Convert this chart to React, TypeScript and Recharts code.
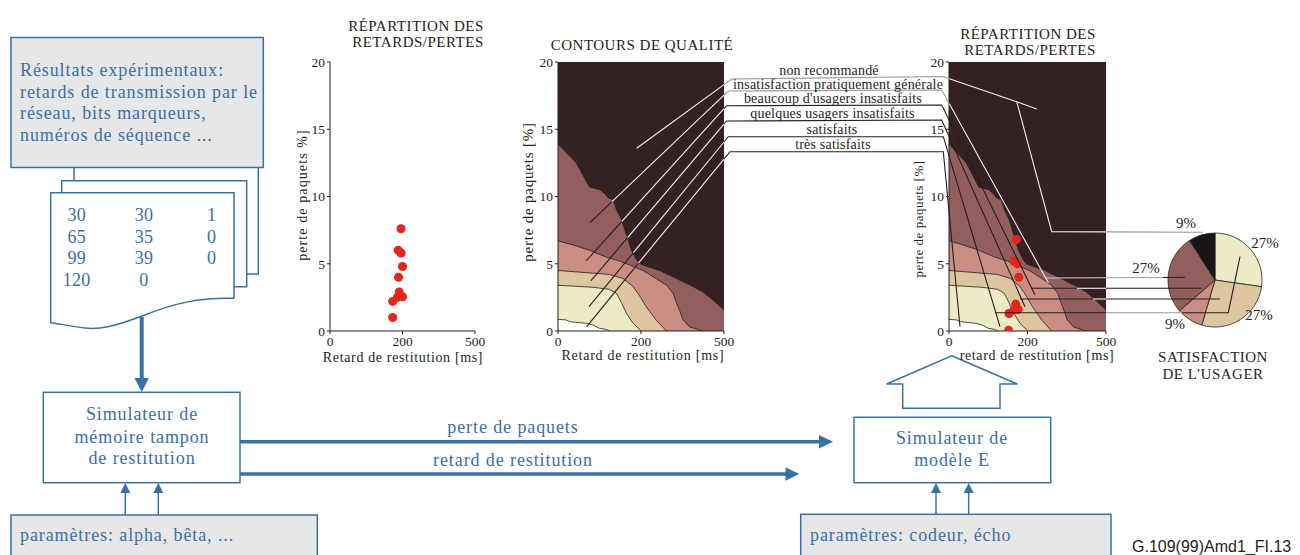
import React from 'react';
import { ScatterChart, Scatter, XAxis, YAxis, ComposedChart, Area, PieChart, Pie, Cell } from 'recharts';

// ---------- data ----------
const X_TICK_VALUES = [0, 200, 500];
const Y_TICKS = [0, 5, 10, 15, 20];

const LEFT_DELAY = [196, 188, 196, 200, 189, 191, 186, 200, 173, 173];
const LEFT_LOSS = [7.6, 6.0, 5.8, 4.8, 4.0, 2.9, 2.5, 2.55, 2.2, 1.0];

const RIGHT_DELAY = [172, 165, 174, 178, 170, 176, 165, 153, 152];
const RIGHT_LOSS = [6.8, 5.2, 5.0, 4.0, 2.0, 1.6, 1.55, 1.3, 0.05];

// quality contour boundaries (delay ms, loss %)
const B1_DELAY = [0, 44, 76, 101, 113, 121, 133, 141, 153, 161, 169, 177, 189, 197, 207, 267, 328, 388, 424, 460, 500];
const B1_LOSS = [13.9, 12.5, 10.7, 10.5, 10.2, 9.9, 9.75, 9.0, 8.3, 7.5, 6.8, 6.0, 5.3, 5.0, 4.9, 4.5, 3.9, 3.3, 2.9, 2.3, 1.56];
const B2_DELAY = [0, 36, 76, 116, 149, 173, 207, 255, 292, 316, 328, 340, 352, 376, 424];
const B2_LOSS = [6.7, 6.4, 6.0, 5.5, 5.2, 4.9, 4.5, 3.9, 3.4, 2.8, 2.1, 1.5, 0.82, 0.3, 0];
const B3_DELAY = [0, 84, 124, 157, 181, 197, 219, 255, 292];
const B3_LOSS = [4.5, 4.3, 4.2, 3.9, 3.3, 2.6, 1.8, 0.8, 0];
const B4_DELAY = [0, 84, 124, 141, 153, 165, 181, 201];
const B4_LOSS = [3.4, 3.25, 3.1, 2.8, 2.1, 1.3, 0.57, 0];
const B5_DELAY = [0, 20, 28, 68, 84, 100, 116, 124];
const B5_LOSS = [0.87, 0.82, 0.7, 0.57, 0.45, 0.2, 0.12, 0];
const BG_DELAY = [0, 500];
const BG_LOSS = [20, 20];

const QUALITY_LABELS = [
  'non recommandé',
  'insatisfaction pratiquement générale',
  "beaucoup d'usagers insatisfaits",
  'quelques usagers insatisfaits',
  'satisfaits',
  'très satisfaits',
];

const PIE_VALUES = [27, 27, 9, 27, 9];
const PIE_LABELS = ['27%', '27%', '9%', '27%', '9%'];

// ---------- styles ----------
const DARK = '#352123';
const MED = '#935f5c';
const PINK = '#c98d84';
const TAN = '#dcc59f';
const YEL = '#eceac7';
const BLACK = '#161414';
const RED = '#e1261c';
const INK = '#231f20';
const BLUE = '#3a70a8';
const BLUE_TXT = '#3a6ea6';
const GRAYBOX = '#e6e7e8';
const WL = '#f0f0f0';
const GL = '#9a9a9a';
const SERIF = '"Liberation Serif", "Times New Roman", "DejaVu Serif", serif';
const SANS = '"Liberation Sans", Arial, sans-serif';

const PIE_COLORS = [YEL, TAN, PINK, MED, BLACK];

// piecewise axis: 0..200 ms on first half, 200..500 ms on second half
const axisPos = (ms: number) => (ms <= 200 ? ms / 400 : 0.5 + (ms - 200) / 600);
const X_AXIS_TICKS = X_TICK_VALUES.map(axisPos);
const fmtX = (v: number) => {
  const i = X_AXIS_TICKS.findIndex((t) => Math.abs(t - v) < 1e-6);
  return i >= 0 ? String(X_TICK_VALUES[i]) : '';
};
const toPoints = (d: number[], l: number[]) => d.map((ms, i) => ({ x: axisPos(ms), y: l[i] }));

const LEFT_POINTS = toPoints(LEFT_DELAY, LEFT_LOSS);
const RIGHT_POINTS = toPoints(RIGHT_DELAY, RIGHT_LOSS);
const CONTOURS = [
  { data: toPoints(BG_DELAY, BG_LOSS), fill: DARK, stroke: 'none' },
  { data: toPoints(B1_DELAY, B1_LOSS), fill: MED, stroke: INK },
  { data: toPoints(B2_DELAY, B2_LOSS), fill: PINK, stroke: INK },
  { data: toPoints(B3_DELAY, B3_LOSS), fill: TAN, stroke: INK },
  { data: toPoints(B4_DELAY, B4_LOSS), fill: YEL, stroke: INK },
  { data: toPoints(B5_DELAY, B5_LOSS), fill: '#ffffff', stroke: INK },
];
const PIE_DATA = PIE_VALUES.map((v, i) => ({ name: PIE_LABELS[i], value: v }));

const tickStyle = { fontSize: 13.5, fill: INK, fontFamily: SERIF };

function xAxisEl() {
  return (
    <XAxis
      type="number"
      dataKey="x"
      domain={[0, 1]}
      allowDataOverflow
      ticks={X_AXIS_TICKS}
      tickFormatter={fmtX}
      interval={0}
      height={39}
      tickSize={3}
      tickMargin={2}
      tick={tickStyle}
      axisLine={{ stroke: INK }}
      tickLine={{ stroke: INK }}
    />
  );
}

function yAxisEl(width: number) {
  return (
    <YAxis
      type="number"
      dataKey="y"
      domain={[0, 20]}
      allowDataOverflow
      ticks={Y_TICKS}
      interval={0}
      width={width}
      tickSize={3}
      tickMargin={2}
      tick={tickStyle}
      axisLine={{ stroke: INK }}
      tickLine={{ stroke: INK }}
    />
  );
}

function ContourChart({ width, yWidth, right, points }: { width: number; yWidth: number; right: number; points?: { x: number; y: number }[] }) {
  return (
    <ComposedChart width={width} height={370} margin={{ top: 62, right, bottom: 0, left: 0 }}>
      {xAxisEl()}
      {yAxisEl(yWidth)}
      {CONTOURS.map((c, i) => (
        <Area
          key={i}
          data={c.data}
          dataKey="y"
          type="linear"
          fill={c.fill}
          fillOpacity={1}
          stroke={c.stroke}
          strokeWidth={0.8}
          dot={false}
          activeDot={false}
          isAnimationActive={false}
        />
      ))}
      {points && <Scatter data={points} dataKey="y" fill={RED} isAnimationActive={false} />}
    </ComposedChart>
  );
}

const T = (props: any) => <text fontFamily={SERIF} fill={INK} {...props} />;
const BT = (props: any) => <text fontFamily={SERIF} fill={BLUE_TXT} fontSize={18} letterSpacing={0.9} {...props} />;

const seg = (pts: number[][]) => pts.map((p) => p.join(',')).join(' ');

function Overlay() {
  const lines: { p: number[][]; c: string }[] = [
    // left chart leader lines
    { p: [[636.7, 148.3], [724, 84.6]], c: WL },
    { p: [[590, 222.7], [612, 201.7]], c: INK },
    { p: [[612, 201.7], [724, 95.1]], c: WL },
    { p: [[586, 261], [621.9, 221.4]], c: INK },
    { p: [[621.9, 221.4], [724, 108.6]], c: WL },
    { p: [[591, 280.7], [627.6, 237.7]], c: INK },
    { p: [[627.6, 237.7], [724, 124.2]], c: WL },
    { p: [[589, 306.7], [633.4, 252.6]], c: INK },
    { p: [[633.4, 252.6], [724, 142]], c: WL },
    { p: [[586.7, 326.7], [638.5, 263.1]], c: INK },
    { p: [[638.5, 263.1], [724, 159.1]], c: WL },
    // underlines
    { p: [[724, 84.6], [731.7, 79], [943, 76.5], [949.3, 78.7]], c: GL },
    { p: [[724, 95.1], [728.3, 91], [941.7, 90], [949.3, 103.7]], c: GL },
    { p: [[724, 108.6], [726.7, 105.7], [941.7, 105], [1035, 295]], c: INK },
    { p: [[724, 124.2], [726.7, 121], [941.7, 120], [1025, 306.7]], c: INK },
    { p: [[724, 142], [728.3, 136.7], [943.3, 136.7], [1000, 326.7]], c: INK },
    { p: [[724, 159.1], [730, 151.7], [943.3, 151.7], [960, 326.7]], c: INK },
    // right chart, non recommandé
    { p: [[949.3, 78.7], [1016.7, 101.7], [1036.7, 109]], c: WL },
    { p: [[1016.7, 101.7], [1051.7, 231.7], [1106, 231.9]], c: WL },
    { p: [[1106, 231.9], [1202.7, 232.3]], c: GL },
    // insatisfaction
    { p: [[949.3, 103.7], [1048.3, 282.7]], c: WL },
    { p: [[1046.7, 278], [1106, 277.8]], c: '#d0d0d0' },
    { p: [[1106, 277.8], [1163, 277.5]], c: GL },
    { p: [[1163, 277.5], [1185, 277.3]], c: INK },
    // beaucoup
    { p: [[1031.7, 288.3], [1077, 288.3]], c: INK },
    { p: [[1077, 288.3], [1106, 288.3]], c: WL },
    { p: [[1106, 288.3], [1201.7, 288.3]], c: INK },
    // quelques
    { p: [[1020, 299], [1093, 299]], c: INK },
    { p: [[1093, 299], [1106, 299]], c: WL },
    { p: [[1106, 299], [1220, 299]], c: INK },
    // satisfaits
    { p: [[995, 312.7], [1106, 312.7]], c: INK },
    { p: [[1106, 312.7], [1182, 312.7]], c: GL },
    { p: [[1182, 312.7], [1228.3, 312.7], [1240, 256.7]], c: INK },
  ];
  const labelY = [74.5, 88.8, 102.8, 118.3, 133.5, 148.8];
  const labelX = [829, 838, 833, 832.5, 832, 833];
  return (
    <svg width={1300} height={555} style={{ position: 'absolute', left: 0, top: 0, pointerEvents: 'none' }}>
      {/* experimental results box and pages */}
      <path d="M74,167.5 V180.7 M258.3,167.5 V274 H246.7" fill="none" stroke={BLUE} strokeWidth={1.5} />
      <path d="M61.7,192.7 V180.7 H246.7 V286.7 H234" fill="none" stroke={BLUE} strokeWidth={1.5} />
      <path
        d="M50.7,192.7 H234 V298.3 C200,297 175,303 140,316.7 C115,326 100,330 85,328 C70,326 60,324 50.7,322.7 Z"
        fill="#fff"
        stroke={BLUE}
        strokeWidth={1.5}
      />
      <rect x={11} y={37.5} width={252.3} height={130} fill={GRAYBOX} stroke={BLUE} strokeWidth={1.5} />
      <BT x={20} y={76}>Résultats expérimentaux:</BT>
      <BT x={20} y={97.5}>retards de transmission par le</BT>
      <BT x={20} y={119}>réseau, bits marqueurs,</BT>
      <BT x={20} y={141}>numéros de séquence ...</BT>
      {[
        ['30', '30', '1'],
        ['65', '35', '0'],
        ['99', '39', '0'],
        ['120', '0', ''],
      ].map((row, i) =>
        row.map((v, j) => (
          <BT key={i + '-' + j} x={[76.7, 144, 211.7][j]} y={221 + i * 21.7} textAnchor="middle" letterSpacing={0.3}>
            {v}
          </BT>
        ))
      )}
      {/* thick arrow down */}
      <line x1={141.7} y1={316.7} x2={141.7} y2={380} stroke={BLUE} strokeWidth={4} />
      <polygon points="134.5,378 148.9,378 141.7,392" fill={BLUE} />
      {/* buffer simulator */}
      <rect x={43.3} y={392.3} width={196.7} height={90.4} fill="#fff" stroke={BLUE} strokeWidth={1.5} />
      <BT x={142} y={420} textAnchor="middle">Simulateur de</BT>
      <BT x={142} y={442.5} textAnchor="middle">mémoire tampon</BT>
      <BT x={142} y={464} textAnchor="middle">de restitution</BT>
      {[125.3, 158.3, 936, 968.7].map((x) => (
        <g key={x}>
          <line x1={x} y1={515} x2={x} y2={492} stroke={BLUE} strokeWidth={1.5} />
          <polygon points={`${x - 5},493 ${x + 5},493 ${x},483`} fill={BLUE} />
        </g>
      ))}
      <rect x={11} y={515} width={306.3} height={60} fill={GRAYBOX} stroke={BLUE} strokeWidth={1.5} />
      <BT x={20} y={541}>paramètres: alpha, bêta, ...</BT>
      {/* horizontal arrows */}
      <line x1={240} y1={441.7} x2={821} y2={441.7} stroke={BLUE} strokeWidth={3.5} />
      <polygon points="819,434.9 833,441.7 819,448.5" fill={BLUE} />
      <line x1={240} y1={474} x2={787} y2={474} stroke={BLUE} strokeWidth={3.5} />
      <polygon points="785.5,467.2 799.3,474 785.5,480.8" fill={BLUE} />
      <BT x={513} y={433} textAnchor="middle">perte de paquets</BT>
      <BT x={513} y={466} textAnchor="middle">retard de restitution</BT>
      {/* E-model */}
      <rect x={854} y={417.3} width={196.7} height={65.4} fill="#fff" stroke={BLUE} strokeWidth={1.5} />
      <BT x={952} y={444} textAnchor="middle">Simulateur de</BT>
      <BT x={952} y={466} textAnchor="middle">modèle E</BT>
      <rect x={800.7} y={514.3} width={310.3} height={60} fill={GRAYBOX} stroke={BLUE} strokeWidth={1.5} />
      <BT x={810} y={541}>paramètres: codeur, écho</BT>
      <polygon
        points="951.7,355.7 1017.3,384 1000,384 1000,408.3 902.7,408.3 902.7,384 886.7,384"
        fill="none"
        stroke={BLUE}
        strokeWidth={1.5}
      />
      <text x={1132} y={552} fontFamily={SANS} fontSize={16} fill={INK}>G.109(99)Amd1_FI.13</text>

      {/* chart titles & axis labels */}
      <T x={416} y={30.5} fontSize={15} letterSpacing={0.5} textAnchor="middle">RÉPARTITION DES</T>
      <T x={418} y={47} fontSize={15} letterSpacing={0.5} textAnchor="middle">RETARDS/PERTES</T>
      <T x={302} y={195} fontSize={14} letterSpacing={1.1} textAnchor="middle" dominantBaseline="central" transform="rotate(-90 302 195)">perte de paquets %]</T>
      <T x={403} y={362} fontSize={14} letterSpacing={0.65} textAnchor="middle">Retard de restitution [ms]</T>
      <T x={642} y={49.5} fontSize={15} letterSpacing={0.5} textAnchor="middle">CONTOURS DE QUALITÉ</T>
      <T x={528} y={192} fontSize={15} letterSpacing={0.8} textAnchor="middle" dominantBaseline="central" transform="rotate(-90 528 192)">perte de paquets [%]</T>
      <T x={643} y={360} fontSize={14} letterSpacing={0.75} textAnchor="middle">Retard de restitution [ms]</T>
      <T x={1028} y={38.5} fontSize={15} letterSpacing={0.5} textAnchor="middle">RÉPARTITION DES</T>
      <T x={1030} y={55} fontSize={15} letterSpacing={0.5} textAnchor="middle">RETARDS/PERTES</T>
      <T x={918} y={219} fontSize={13} letterSpacing={0.5} textAnchor="middle" dominantBaseline="central" transform="rotate(-90 918 219)">perte de paquets [%]</T>
      <T x={1037} y={360} fontSize={14} letterSpacing={0.6} textAnchor="middle">retard de restitution [ms]</T>

      {/* leader lines */}
      {lines.map((l, i) => (
        <polyline key={i} points={seg(l.p)} fill="none" stroke={l.c} strokeWidth={1.1} />
      ))}
      {QUALITY_LABELS.map((s, i) => (
        <T key={s} x={labelX[i]} y={labelY[i]} fontSize={14} letterSpacing={0.2} textAnchor="middle">{s}</T>
      ))}

      {/* pie labels */}
      <T x={1265} y={248} fontSize={15} textAnchor="middle">{PIE_LABELS[0]}</T>
      <T x={1259} y={320} fontSize={15} textAnchor="middle">{PIE_LABELS[1]}</T>
      <T x={1175} y={329} fontSize={15} textAnchor="middle">{PIE_LABELS[2]}</T>
      <T x={1146} y={273} fontSize={15} textAnchor="middle">{PIE_LABELS[3]}</T>
      <T x={1186} y={228} fontSize={15} textAnchor="middle">{PIE_LABELS[4]}</T>
      <T x={1213} y={362} fontSize={15} letterSpacing={0.5} textAnchor="middle">SATISFACTION</T>
      <T x={1213} y={379} fontSize={15} letterSpacing={0.5} textAnchor="middle">DE L'USAGER</T>
    </svg>
  );
}

export default function App() {
  return (
    <div style={{ position: 'absolute', left: 0, top: 0, width: 1300, height: 555, background: '#fff', overflow: 'hidden' }}>
      <div style={{ position: 'absolute', left: 270, top: 0 }}>
        <ScatterChart width={230} height={370} margin={{ top: 62, right: 25, bottom: 0, left: 0 }}>
          {xAxisEl()}
          {yAxisEl(60)}
          <Scatter data={LEFT_POINTS} fill={RED} isAnimationActive={false} />
        </ScatterChart>
      </div>
      <div style={{ position: 'absolute', left: 500, top: 0 }}>
        <ContourChart width={240} yWidth={58} right={16} />
      </div>
      <div style={{ position: 'absolute', left: 890, top: 0 }}>
        <ContourChart width={230} yWidth={59} right={14} points={RIGHT_POINTS} />
      </div>
      <div style={{ position: 'absolute', left: 1150, top: 215 }}>
        <PieChart width={120} height={120}>
          <Pie
            data={PIE_DATA}
            dataKey="value"
            cx={60}
            cy={60}
            outerRadius={47}
            innerRadius={0}
            startAngle={90}
            endAngle={-270}
            stroke={INK}
            strokeWidth={0.8}
            isAnimationActive={false}
          >
            {PIE_DATA.map((d, i) => (
              <Cell key={i} fill={PIE_COLORS[i]} />
            ))}
          </Pie>
        </PieChart>
      </div>
      <Overlay />
    </div>
  );
}
